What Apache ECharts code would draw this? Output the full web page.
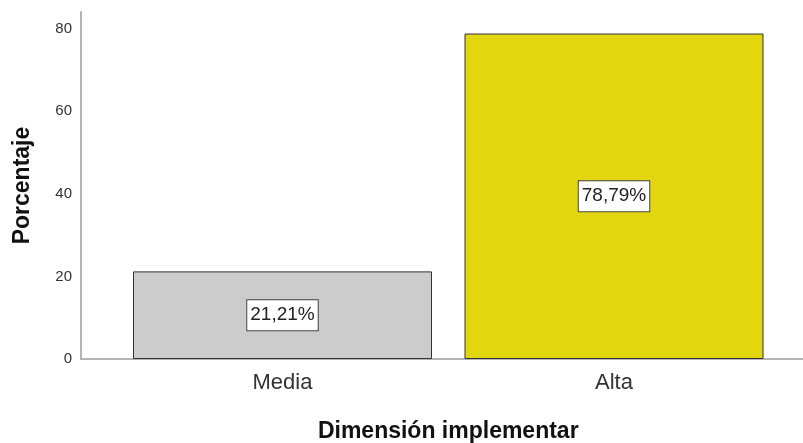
<!DOCTYPE html>
<html>
<head>
<meta charset="utf-8">
<script src="https://cdn.jsdelivr.net/npm/echarts@6/dist/echarts.min.js"></script>
<style>html,body{margin:0;padding:0;background:#fff}#c{width:803px;height:443px}</style>
</head>
<body>
<div id="c"></div>
<script>
const categories = ['Media', 'Alta'];
const values = [21.21, 78.79];
const barColors = ['#cccccc', '#e2d70f'];
const yTicks = [0, 20, 40, 60, 80];
const xTitle = 'Dimensión implementar';
const yTitle = 'Porcentaje';

const chart = echarts.init(document.getElementById('c'), null, {renderer: 'canvas'});
const font = 'Liberation Sans, Arial, sans-serif';
chart.setOption({
  animation: false,
  backgroundColor: '#fff',
  grid: [
    {left: 81, right: 0, top: 12, bottom: 84, outerBoundsMode: 'none', containLabel: false},
    {left: 116.75, width: 663, top: 12, bottom: 84, outerBoundsMode: 'none', containLabel: false}
  ],
  xAxis: [
    {type: 'value', gridIndex: 0, min: 0, max: 1,
     axisLine: {show: true, lineStyle: {color: '#b4b4b4', width: 2}},
     axisTick: {show: false}, axisLabel: {show: false}, splitLine: {show: false}},
    {type: 'category', gridIndex: 1, data: categories,
     axisLine: {show: false}, axisTick: {show: false},
     axisLabel: {fontFamily: font, fontSize: 22, color: '#333', margin: 13},
     name: xTitle, nameLocation: 'middle', nameGap: 61,
     nameTextStyle: {fontFamily: font, fontSize: 23, fontWeight: 'bold', color: '#111'}}
  ],
  yAxis: [
    {type: 'value', gridIndex: 0, min: yTicks[0], max: 84, interval: 20,
     axisLine: {show: true, lineStyle: {color: '#b4b4b4', width: 2}},
     axisTick: {show: false}, splitLine: {show: false},
     axisLabel: {fontFamily: font, fontSize: 15, color: '#333', margin: 9, showMaxLabel: false,
       padding: [5, 0, 0, 0],
       formatter: v => yTicks.includes(v) ? String(v) : ''},
     name: yTitle, nameLocation: 'middle', nameGap: 47,
     nameTextStyle: {fontFamily: font, fontSize: 23, fontWeight: 'bold', color: '#111'}},
    {type: 'value', gridIndex: 1, min: 0, max: 84, show: false}
  ],
  series: [{
    type: 'bar', xAxisIndex: 1, yAxisIndex: 1, barWidth: 299,
    data: values.map((v, i) => ({value: v, itemStyle: {color: barColors[i]}})),
    itemStyle: {borderColor: '#333', borderWidth: 1},
    label: {show: true, position: 'inside', fontFamily: font, fontSize: 19, color: '#222',
      backgroundColor: '#fff', borderColor: '#444', borderWidth: 1, padding: [6, 3, 5, 3],
      formatter: p => p.value.toFixed(2).replace('.', ',') + '%'}
  }]
});
</script>
</body>
</html>
